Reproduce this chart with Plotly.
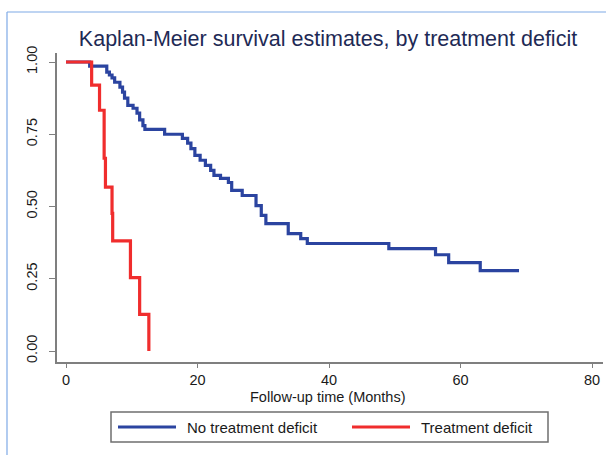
import plotly.graph_objects as go

# Kaplan-Meier step data
no_deficit_time = [0, 3.6, 6.2, 6.6, 7.0, 7.4, 8.2, 8.6, 8.9, 9.4, 10.2, 10.8, 11.2, 11.7, 12.0,
                   15.0, 17.7, 18.5, 19.0, 19.6, 20.4, 21.2, 22.0, 22.5, 23.5, 24.7, 25.2, 26.8,
                   28.9, 29.7, 30.4, 33.8, 35.7, 36.7, 49.1, 56.2, 58.2, 63.0, 68.9]
no_deficit_surv = [1.0, 0.986, 0.965, 0.955, 0.945, 0.93, 0.913, 0.896, 0.875, 0.85, 0.84, 0.823, 0.80, 0.78, 0.767,
                   0.75, 0.736, 0.719, 0.70, 0.677, 0.66, 0.642, 0.625, 0.608, 0.597, 0.583, 0.556, 0.538,
                   0.503, 0.469, 0.441, 0.406, 0.389, 0.372, 0.354, 0.333, 0.306, 0.278, 0.278]

deficit_time = [0, 3.9, 5.1, 5.8, 6.0, 7.0, 7.1, 9.8, 11.2, 12.6]
deficit_surv = [1.0, 0.92, 0.833, 0.667, 0.567, 0.476, 0.381, 0.254, 0.127, 0.0]

x_ticks = [0, 20, 40, 60, 80]
y_ticks = [0, 0.25, 0.5, 0.75, 1.0]
series_names = ["No treatment deficit", "Treatment deficit"]

BLUE = "#2b44a0"
RED = "#f02d2d"
AXIS = "#7f7f7f"
FONT = "Liberation Sans, Arial, sans-serif"
TXT = "#1a1a1a"

fig = go.Figure()
fig.add_trace(go.Scatter(x=no_deficit_time, y=no_deficit_surv, mode="lines",
                         line=dict(color=BLUE, width=3.2, shape="hv"), name=series_names[0]))
fig.add_trace(go.Scatter(x=deficit_time, y=deficit_surv, mode="lines",
                         line=dict(color=RED, width=3.2, shape="hv"), name=series_names[1]))

L, R, T, B = 57, 3, 53, 93
W, H = 606, 455
pw, ph = W - L - R, H - T - B

def px(xp):
    return (xp - L) / pw

def py(yp):
    return (H - B - yp) / ph

shapes = [
    # outer light blue frame
    dict(type="line", xref="paper", yref="paper", x0=px(7), x1=px(620), y0=py(12), y1=py(12),
         line=dict(color="#7ea9e6", width=1.2)),
    dict(type="line", xref="paper", yref="paper", x0=px(7), x1=px(7), y0=py(12), y1=py(470),
         line=dict(color="#7ea9e6", width=1.2)),
    # legend box
    dict(type="rect", xref="paper", yref="paper", x0=px(111), x1=px(548), y0=py(412), y1=py(442),
         line=dict(color="#6f6f6f", width=1.5), fillcolor="white"),
    dict(type="line", xref="paper", yref="paper", x0=px(118), x1=px(176), y0=py(427), y1=py(427),
         line=dict(color=BLUE, width=3.2)),
    dict(type="line", xref="paper", yref="paper", x0=px(352), x1=px(410), y0=py(427), y1=py(427),
         line=dict(color=RED, width=3.2)),
]

annotations = [
    dict(text=series_names[0], xref="paper", yref="paper", x=px(185), y=py(427),
         xanchor="left", yanchor="middle", showarrow=False, font=dict(size=15, color=TXT, family=FONT)),
    dict(text=series_names[1], xref="paper", yref="paper", x=px(419), y=py(427),
         xanchor="left", yanchor="middle", showarrow=False, font=dict(size=15, color=TXT, family=FONT)),
    dict(text="Follow-up time (Months)", xref="paper", yref="paper", x=px(328), y=py(397),
         xanchor="center", yanchor="middle", showarrow=False, font=dict(size=14.5, color=TXT, family=FONT)),
]

fig.update_layout(
    width=W, height=H,
    margin=dict(l=L, r=R, t=T, b=B, pad=0),
    paper_bgcolor="white", plot_bgcolor="white",
    showlegend=False,
    title=dict(text="Kaplan-Meier survival estimates, by treatment deficit",
               x=px(328), xref="paper", xanchor="center", y=1 - 38 / H, yanchor="middle",
               font=dict(size=21.5, color="#1e2a55", family=FONT)),
    font=dict(family=FONT, color=TXT, size=14),
    shapes=shapes, annotations=annotations,
)

x_min = -9 / 6.575
fig.update_xaxes(range=[x_min, x_min + pw / 6.575], tickvals=x_ticks, showgrid=False, zeroline=False,
                 showline=True, linecolor=AXIS, linewidth=1.5, ticks="outside", ticklen=4,
                 tickcolor=AXIS, tickwidth=1.2, tickfont=dict(size=14.5, color=TXT),
                 ticklabelstandoff=0)
y_min = -(362 - 351) / 289
fig.update_yaxes(range=[y_min, y_min + ph / 289], tickvals=y_ticks, tickformat=".2f", showgrid=False,
                 zeroline=False, showline=True, linecolor=AXIS, linewidth=1.5, ticks="outside",
                 ticklen=6, tickcolor=AXIS, tickwidth=1.2, tickangle=-90,
                 tickfont=dict(size=14.5, color=TXT), ticklabelstandoff=6)

fig.write_html("out.html")
